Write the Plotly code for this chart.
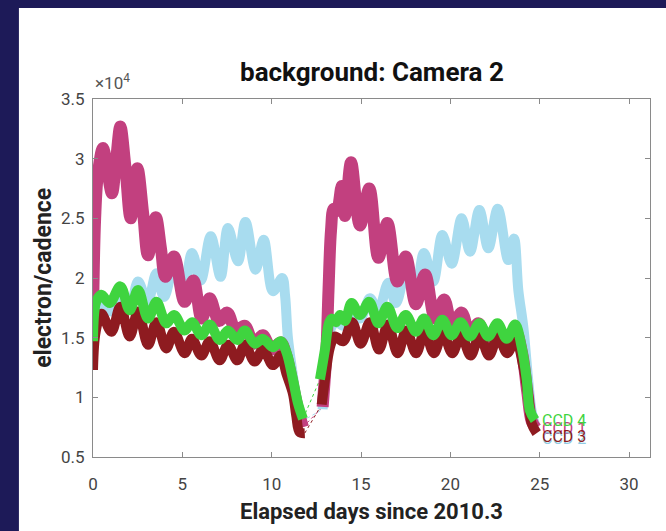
import plotly.graph_objects as go

# ---------------- data (values in units of 1e4 electron/cadence) ----------------
ccd1_days = [0.0, 0.12, 0.28, 0.56, 0.8, 1.06, 1.3, 1.53, 1.8, 2.11, 2.48, 2.8, 3.08, 3.51, 3.8, 4.05,
             4.53, 5.13, 5.62, 6.08, 6.53, 7.05, 7.51, 8.0, 8.49, 9.0, 9.5, 10.0, 10.5, 10.82, 11.19,
             11.47, 11.75,
             None,
             12.85, 13.05, 13.18, 13.32, 13.47, 13.64, 13.92, 14.1, 14.44, 14.94, 15.46, 15.97, 16.47,
             17.03, 17.5, 18.07, 18.58, 19.15, 19.65, 20.1, 20.63, 21.1, 21.56, 22.1, 22.63, 23.15,
             23.62, 24.0, 24.3, 24.55, 24.8]
ccd1_vals = [1.68, 2.5, 2.88, 3.09, 2.9, 2.71, 3.0, 3.27, 2.95, 2.5, 2.92, 2.55, 2.19, 2.51, 2.25, 2.01,
             2.18, 1.8, 1.98, 1.66, 1.83, 1.64, 1.71, 1.56, 1.6, 1.45, 1.52, 1.4, 1.46, 1.35, 1.1,
             0.9, 0.75,
             None,
             0.92, 1.35, 1.9, 2.4, 2.58, 2.56, 2.77, 2.52, 2.97, 2.44, 2.75, 2.17, 2.46,
             1.97, 2.18, 1.78, 2.03, 1.66, 1.82, 1.6, 1.71, 1.52, 1.62, 1.48, 1.58, 1.46,
             1.56, 1.38, 1.05, 0.8, 0.74]

ccd2_days = [0.0, 0.45, 1.0, 1.5, 2.05, 2.52, 3.05, 3.55, 3.97, 4.53, 5.04, 5.54, 6.03, 6.59, 7.14,
             7.55, 8.11, 8.53, 9.1, 9.55, 10.07, 10.59, 10.75, 10.9, 11.15, 11.38, 11.7,
             None,
             12.85, 13.05, 13.25, 13.6, 14.0, 14.47, 14.94, 15.5, 15.95, 16.53, 16.95, 17.55, 18.02,
             18.52, 19.04, 19.55, 20.07, 20.63, 21.1, 21.62, 22.12, 22.65, 23.24, 23.56, 23.8, 24.08,
             24.35, 24.55, 24.75]
ccd2_vals = [1.55, 1.78, 1.72, 1.86, 1.74, 1.97, 1.8, 2.04, 1.84, 2.09, 1.86, 2.21, 1.98, 2.35, 2.01,
             2.42, 2.14, 2.47, 2.07, 2.32, 1.89, 2.0, 1.85, 1.51, 1.22, 1.0, 0.8,
             None,
             0.9, 1.3, 1.55, 1.64, 1.6, 1.74, 1.66, 1.83, 1.72, 1.96, 1.79, 2.08, 1.83,
             2.21, 1.97, 2.36, 2.12, 2.5, 2.22, 2.57, 2.25, 2.58, 2.15, 2.33, 1.9, 1.59,
             1.15, 0.88, 0.76]

ccd3_days = [0.0, 0.15, 0.47, 1.03, 1.53, 2.05, 2.52, 3.08, 3.55, 4.1, 4.53, 5.13, 5.54, 6.06, 6.53,
             7.09, 7.55, 8.08, 8.49, 9.05, 9.51, 10.07, 10.5, 10.82, 11.19, 11.38, 11.56, 11.85,
             None,
             12.8, 12.98, 13.26, 13.54, 14.0, 14.5, 14.98, 15.5, 16.0, 16.5, 17.05, 17.53, 18.08,
             18.56, 19.08, 19.58, 20.1, 20.6, 21.13, 21.64, 22.16, 22.66, 23.18, 23.65, 24.08, 24.36,
             24.55, 24.83]
ccd3_vals = [1.23, 1.55, 1.7, 1.55, 1.76, 1.51, 1.72, 1.44, 1.63, 1.41, 1.55, 1.37, 1.49, 1.35, 1.47,
             1.31, 1.44, 1.31, 1.44, 1.3, 1.4, 1.27, 1.35, 1.2, 1.03, 0.84, 0.71, 0.7,
             None,
             0.94, 1.15, 1.42, 1.51, 1.47, 1.63, 1.45, 1.63, 1.4, 1.61, 1.37, 1.56, 1.37,
             1.55, 1.37, 1.54, 1.37, 1.52, 1.35, 1.52, 1.35, 1.51, 1.37, 1.49, 1.26, 1.01,
             0.78, 0.7]

ccd4_days = [0.0, 0.18, 0.47, 0.93, 1.53, 2.05, 2.52, 3.08, 3.55, 4.1, 4.53, 5.13, 5.54, 6.06, 6.53,
             7.09, 7.55, 8.08, 8.49, 9.05, 9.51, 10.07, 10.5, 10.82, 11.19, 11.47, 11.75,
             None,
             12.7, 12.98, 13.2, 13.36, 13.6, 13.82, 14.1, 14.47, 14.94, 15.46, 15.97, 16.47, 17.03,
             17.5, 18.07, 18.52, 19.04, 19.55, 20.07, 20.57, 21.1, 21.62, 22.12, 22.63, 23.15, 23.62,
             23.99, 24.27, 24.45, 24.73]
ccd4_vals = [1.47, 1.8, 1.86, 1.79, 1.93, 1.73, 1.9, 1.66, 1.8, 1.62, 1.69, 1.56, 1.63, 1.52, 1.61,
             1.48, 1.56, 1.48, 1.56, 1.45, 1.49, 1.42, 1.47, 1.38, 1.15, 0.95, 0.82,
             None,
             1.15, 1.4, 1.62, 1.66, 1.63, 1.69, 1.64, 1.79, 1.69, 1.8, 1.62, 1.76, 1.58,
             1.69, 1.55, 1.66, 1.52, 1.65, 1.52, 1.63, 1.51, 1.62, 1.51, 1.62, 1.49, 1.61,
             1.42, 1.15, 0.89, 0.81]

ccd_names = ["CCD 1", "CCD 2", "CCD 3", "CCD 4"]
ccd_label_y = [0.737, 0.655, 0.67, 0.81]
label_day = 25.0

x_ticks = [0, 5, 10, 15, 20, 25, 30]
y_ticks = [0.5, 1, 1.5, 2, 2.5, 3, 3.5]
y_tick_text = ["0.5", "1", "1.5", "2", "2.5", "3", "3.5"]

colors = {"CCD 1": "#C2407F", "CCD 2": "#A8DCEF", "CCD 3": "#8E1B20", "CCD 4": "#3FD43F"}
label_colors = {"CCD 1": "#C2407F", "CCD 2": "#8FCBE3", "CCD 3": "#8E1B20", "CCD 4": "#3FD43F"}
widths = {"CCD 1": 12, "CCD 2": 10, "CCD 3": 10, "CCD 4": 10}

series = {
    "CCD 1": (ccd1_days, ccd1_vals),
    "CCD 2": (ccd2_days, ccd2_vals),
    "CCD 3": (ccd3_days, ccd3_vals),
    "CCD 4": (ccd4_days, ccd4_vals),
}

fig = go.Figure()

# thin dotted connectors across the data gap
for name in ccd_names:
    d, v = series[name]
    i = d.index(None)
    fig.add_trace(go.Scatter(x=[d[i - 1], d[i + 1]], y=[v[i - 1], v[i + 1]], mode="lines",
                             line=dict(color=colors[name], width=1, dash="dot"),
                             showlegend=False, hoverinfo="skip"))

draw_order = ["CCD 2", "CCD 1", "CCD 3", "CCD 4"]
for name in draw_order:
    d, v = series[name]
    fig.add_trace(go.Scatter(x=d, y=v, mode="lines", name=name,
                             line=dict(color=colors[name], width=widths[name], shape="spline",
                                       smoothing=1.0),
                             connectgaps=False, showlegend=False))

FONT = "Roboto"
annotations = []
for name, ly in zip(ccd_names, ccd_label_y):
    annotations.append(dict(x=label_day, y=ly, xref="x", yref="y", text=name, showarrow=False,
                            xanchor="left", yanchor="middle",
                            font=dict(family=FONT, size=16, color=label_colors[name])))

annotations += [
    dict(x=0.5, y=1.075, xref="paper", yref="paper", text="<b>background: Camera 2</b>",
         showarrow=False, xanchor="center", yanchor="middle",
         font=dict(family=FONT, size=26, color="#111111")),
    dict(x=0.5, y=-0.151, xref="paper", yref="paper", text="<b>Elapsed days since 2010.3</b>",
         showarrow=False, xanchor="center", yanchor="middle",
         font=dict(family=FONT, size=22, color="#222222")),
    dict(x=-0.09, y=0.5, xref="paper", yref="paper", text="<b>electron/cadence</b>",
         showarrow=False, xanchor="center", yanchor="middle", textangle=-90,
         font=dict(family=FONT, size=23, color="#222222")),
    dict(x=0.0, y=1.012, xref="paper", yref="paper", text="×10<sup>4</sup>",
         showarrow=False, xanchor="left", yanchor="bottom",
         font=dict(family=FONT, size=17, color="#555555")),
]

axis_common = dict(showgrid=False, zeroline=False, showline=True, linecolor="#8a8a8a",
                   linewidth=1, mirror="ticks", ticks="inside", ticklen=5, tickcolor="#8a8a8a",
                   tickfont=dict(family=FONT, size=17, color="#444444"))

fig.update_layout(
    width=666, height=531,
    margin=dict(l=93, r=16, t=99, b=74, pad=0),
    paper_bgcolor="#1d1a58",
    plot_bgcolor="white",
    xaxis=dict(range=[0, 31.17], tickvals=x_ticks, ticklabelstandoff=12, **axis_common),
    yaxis=dict(range=[0.5, 3.5], tickvals=y_ticks, ticktext=y_tick_text, ticklabelstandoff=4,
               **axis_common),
    annotations=annotations,
    shapes=[dict(type="rect", xref="paper", yref="paper", x0=-0.133, x1=1.05, y0=-0.25, y1=1.254,
                 fillcolor="white", line=dict(width=0), layer="below")],
)

fig.write_html("out.html")
